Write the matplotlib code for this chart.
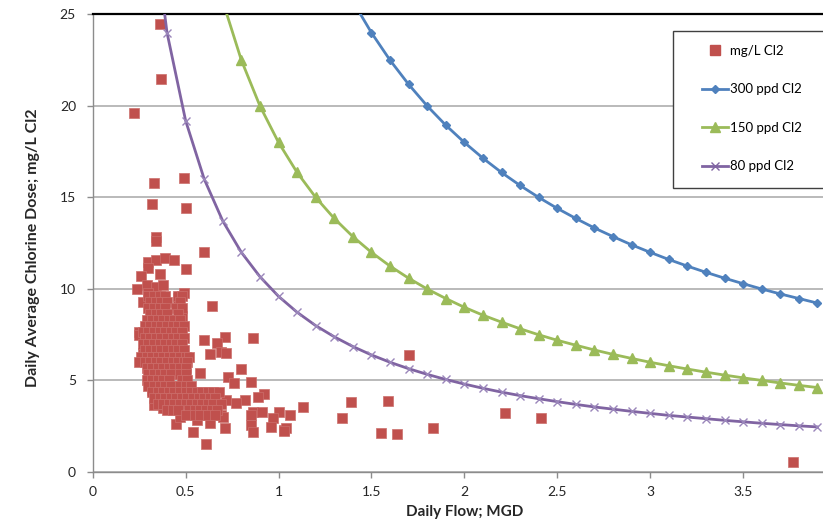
import numpy as np
import matplotlib
matplotlib.use('Agg')
import matplotlib.pyplot as plt
from matplotlib.patches import Rectangle
from matplotlib.lines import Line2D

plt.rcParams['font.family'] = ['Lato', 'DejaVu Sans']

## colours (Excel 2007 palette)
c_red = '#C0504D'
c_blue = '#4F81BD'
c_green = '#9BBB59'
c_purple = '#8064A2'

## measured daily points: flow (MGD) and dose (mg/L Cl2)
# scattered points read off the chart
flow_pts = [0.36, 0.37, 0.22, 0.33, 0.49, 0.32, 0.50, 0.34, 0.34, 0.60,
            0.30, 0.34, 0.39, 0.44, 0.30, 0.50, 0.36, 0.26, 0.24, 0.29,
            0.34, 0.38, 0.27, 0.30, 0.49, 0.46, 0.64, 0.48, 0.25, 0.25,
            0.60, 0.71, 0.86, 0.67, 0.69, 0.72, 0.63, 0.27, 0.80, 0.58,
            0.73, 0.76, 0.85, 0.32, 0.92, 0.89, 0.82, 0.72, 0.77, 0.33,
            0.38, 0.86, 0.91, 0.85, 1.00, 0.97, 0.96, 1.03, 0.85, 0.86,
            0.71, 0.54, 0.45, 0.61, 0.69, 0.70, 0.63, 0.56, 0.47, 1.06,
            1.13, 1.04, 1.03, 1.34, 1.39, 1.59, 1.55, 1.64, 1.83, 1.70,
            2.22, 2.41, 3.77]
dose_pts = [24.45, 21.44, 19.61, 15.78, 16.03, 14.65, 14.39, 12.81, 12.61, 12.03,
            11.48, 11.57, 11.70, 11.57, 11.12, 11.06, 10.82, 10.70, 9.99, 10.21,
            10.11, 10.21, 9.30, 9.75, 9.75, 9.48, 9.08, 8.52, 7.66, 7.50,
            7.21, 7.39, 7.30, 7.03, 6.57, 6.48, 6.42, 6.48, 5.62, 5.39,
            5.20, 4.84, 4.93, 4.48, 4.26, 4.11, 3.93, 3.93, 3.75, 3.66,
            3.48, 3.29, 3.29, 3.11, 3.29, 2.93, 2.47, 2.29, 2.57, 2.17,
            2.39, 2.17, 2.62, 1.53, 3.11, 3.02, 2.66, 2.84, 3.02, 3.11,
            3.56, 2.42, 2.22, 2.93, 3.84, 3.89, 2.11, 2.07, 2.39, 6.39,
            3.20, 2.93, 0.55]

# dense cluster at low flow, read row by row
flow_dense = [0.30, 0.33, 0.36, 0.39, 0.46, 0.48,
              0.31, 0.34, 0.37, 0.40, 0.47,
              0.30, 0.33, 0.36, 0.39, 0.45, 0.48,
              0.31, 0.34, 0.37, 0.40, 0.46,
              0.29, 0.32, 0.35, 0.38, 0.41, 0.44, 0.47,
              0.28, 0.31, 0.34, 0.37, 0.40, 0.43, 0.46, 0.49,
              0.27, 0.30, 0.33, 0.36, 0.39, 0.42, 0.45, 0.48,
              0.28, 0.31, 0.34, 0.37, 0.40, 0.43, 0.46, 0.49,
              0.27, 0.30, 0.33, 0.36, 0.39, 0.42, 0.45, 0.48,
              0.28, 0.31, 0.34, 0.37, 0.40, 0.43, 0.46, 0.49,
              0.26, 0.29, 0.32, 0.35, 0.38, 0.41, 0.44, 0.47, 0.50, 0.52,
              0.25, 0.28, 0.31, 0.34, 0.37, 0.40, 0.43, 0.46, 0.49, 0.51,
              0.29, 0.32, 0.35, 0.38, 0.41, 0.44, 0.47, 0.50,
              0.30, 0.33, 0.36, 0.39, 0.42, 0.47, 0.50,
              0.29, 0.32, 0.35, 0.38, 0.41, 0.48, 0.51,
              0.30, 0.33, 0.36, 0.39, 0.42, 0.47, 0.50, 0.53,
              0.32, 0.35, 0.38, 0.41, 0.44, 0.47, 0.50, 0.53, 0.56, 0.59, 0.62, 0.65, 0.68,
              0.33, 0.36, 0.39, 0.42, 0.45, 0.48, 0.51, 0.54, 0.57, 0.60, 0.63, 0.66,
              0.35, 0.38, 0.41, 0.44, 0.47, 0.50, 0.53, 0.56, 0.59, 0.62, 0.65, 0.69,
              0.40, 0.43, 0.46, 0.52, 0.55, 0.58, 0.61, 0.64, 0.67,
              0.50, 0.55, 0.58, 0.62, 0.66]
dose_dense = [9.60, 9.60, 9.60, 9.60, 9.60, 9.60,
              9.30, 9.30, 9.30, 9.30, 9.30,
              8.95, 8.95, 8.95, 8.95, 8.95, 8.95,
              8.60, 8.60, 8.60, 8.60, 8.60,
              8.30, 8.30, 8.30, 8.30, 8.30, 8.30, 8.30,
              7.95, 7.95, 7.95, 7.95, 7.95, 7.95, 7.95, 7.95,
              7.65, 7.65, 7.65, 7.65, 7.65, 7.65, 7.65, 7.65,
              7.30, 7.30, 7.30, 7.30, 7.30, 7.30, 7.30, 7.30,
              7.00, 7.00, 7.00, 7.00, 7.00, 7.00, 7.00, 7.00,
              6.65, 6.65, 6.65, 6.65, 6.65, 6.65, 6.65, 6.65,
              6.30, 6.30, 6.30, 6.30, 6.30, 6.30, 6.30, 6.30, 6.30, 6.30,
              6.00, 6.00, 6.00, 6.00, 6.00, 6.00, 6.00, 6.00, 6.00, 6.00,
              5.70, 5.70, 5.70, 5.70, 5.70, 5.70, 5.70, 5.70,
              5.35, 5.35, 5.35, 5.35, 5.35, 5.35, 5.35,
              5.00, 5.00, 5.00, 5.00, 5.00, 5.00, 5.00,
              4.70, 4.70, 4.70, 4.70, 4.70, 4.70, 4.70, 4.70,
              4.35, 4.35, 4.35, 4.35, 4.35, 4.35, 4.35, 4.35, 4.35, 4.35, 4.35, 4.35, 4.35,
              4.05, 4.05, 4.05, 4.05, 4.05, 4.05, 4.05, 4.05, 4.05, 4.05, 4.05, 4.05,
              3.70, 3.70, 3.70, 3.70, 3.70, 3.70, 3.70, 3.70, 3.70, 3.70, 3.70, 3.70,
              3.40, 3.40, 3.40, 3.40, 3.40, 3.40, 3.40, 3.40, 3.40,
              3.10, 3.10, 3.10, 3.10, 3.10]

## constant feed curves (one marker per 0.1 MGD)
flow_300 = [1.4, 1.5, 1.6, 1.7, 1.8, 1.9, 2.0, 2.1, 2.2, 2.3, 2.4, 2.5, 2.6,
            2.7, 2.8, 2.9, 3.0, 3.1, 3.2, 3.3, 3.4, 3.5, 3.6, 3.7, 3.8, 3.9]
dose_300 = [25.69, 23.98, 22.48, 21.16, 19.98, 18.93, 17.99, 17.13, 16.35,
            15.64, 14.99, 14.39, 13.84, 13.32, 12.85, 12.40, 11.99, 11.60,
            11.24, 10.90, 10.58, 10.28, 9.99, 9.72, 9.47, 9.22]

flow_150 = [0.7, 0.8, 0.9, 1.0, 1.1, 1.2, 1.3, 1.4, 1.5, 1.6, 1.7, 1.8, 1.9,
            2.0, 2.1, 2.2, 2.3, 2.4, 2.5, 2.6, 2.7, 2.8, 2.9, 3.0, 3.1, 3.2,
            3.3, 3.4, 3.5, 3.6, 3.7, 3.8, 3.9]
dose_150 = [25.69, 22.48, 19.98, 17.99, 16.35, 14.99, 13.84, 12.85, 11.99,
            11.24, 10.58, 9.99, 9.47, 8.99, 8.56, 8.18, 7.82, 7.49, 7.19,
            6.92, 6.66, 6.42, 6.20, 5.99, 5.80, 5.62, 5.45, 5.29, 5.14,
            5.00, 4.86, 4.73, 4.61]

flow_80 = [0.3, 0.4, 0.5, 0.6, 0.7, 0.8, 0.9, 1.0, 1.1, 1.2, 1.3, 1.4, 1.5,
           1.6, 1.7, 1.8, 1.9, 2.0, 2.1, 2.2, 2.3, 2.4, 2.5, 2.6, 2.7, 2.8,
           2.9, 3.0, 3.1, 3.2, 3.3, 3.4, 3.5, 3.6, 3.7, 3.8, 3.9]
dose_80 = [31.97, 23.98, 19.18, 15.99, 13.70, 11.99, 10.66, 9.59, 8.72, 7.99,
           7.38, 6.85, 6.39, 5.99, 5.64, 5.33, 5.05, 4.80, 4.57, 4.36, 4.17,
           4.00, 3.84, 3.69, 3.55, 3.43, 3.31, 3.20, 3.09, 3.00, 2.91, 2.82,
           2.74, 2.66, 2.59, 2.52, 2.46]

xticks = [0, 0.5, 1, 1.5, 2, 2.5, 3, 3.5]
xticklabels = ['0', '0.5', '1', '1.5', '2', '2.5', '3', '3.5']
yticks = [0, 5, 10, 15, 20, 25]

W, H = 823., 522.
fig = plt.figure(figsize=(W/100, H/100), dpi=100)
x0, x1, y0, y1 = 92.7, 823., 14., 472.
ax = fig.add_axes([x0/W, 1-y1/H, (x1-x0)/W, (y1-y0)/H])

ax.scatter(flow_pts + flow_dense, dose_pts + dose_dense, marker='s', s=44,
           color=c_red, edgecolors='#CC6F6C', linewidths=0.5, zorder=3)
ax.plot(flow_300, dose_300, color=c_blue, lw=2, marker='D', ms=4, zorder=4)
ax.plot(flow_150, dose_150, color=c_green, lw=2, marker='^', ms=6.5, zorder=4)
ax.plot(flow_80, dose_80, color=c_purple, lw=2, marker='x', ms=5.5, mew=1,
        mec='#9A86BA', zorder=4)

ax.set_xlim(0, 3.93)
ax.set_ylim(0, 25)
ax.set_xticks(xticks)
ax.set_xticklabels(xticklabels)
ax.set_yticks(yticks)
ax.yaxis.grid(True, color='#B4B4B4', lw=1.3)
ax.set_axisbelow(True)
ax.tick_params(axis='both', direction='out', length=4, width=1,
               color='#8C8C8C', labelsize=10, labelcolor='#262626')
ax.tick_params(axis='x', pad=6)
ax.tick_params(axis='y', pad=8)

for s in ['left', 'bottom']:
    ax.spines[s].set_color('#8C8C8C')
    ax.spines[s].set_linewidth(1)
ax.spines['right'].set_visible(False)
ax.spines['top'].set_color('black')
ax.spines['top'].set_linewidth(1.6)

fig.text(465/W, 1-512/H, 'Daily Flow; MGD', ha='center', va='center',
         fontsize=11, fontweight='bold', color='#262626')
fig.text(33/W, 1-248/H, 'Daily Average Chlorine Dose; mg/L Cl2', ha='center',
         va='center', rotation=90, fontsize=11.5, fontweight='bold',
         color='#262626')

## legend in a box at the upper right
fig.patches.append(Rectangle((673/W, 1-188/H), 160/W, 157/H,
                             transform=fig.transFigure, facecolor='white',
                             edgecolor='#404040', lw=1, zorder=5))
handles = [Line2D([], [], ls='none', marker='s', ms=6.5, color=c_red),
           Line2D([], [], color=c_blue, lw=2, marker='D', ms=4),
           Line2D([], [], color=c_green, lw=2, marker='^', ms=6.5),
           Line2D([], [], color=c_purple, lw=2, marker='x', ms=5.5, mew=1)]
labels = ['mg/L Cl2', '300 ppd Cl2', '150 ppd Cl2', '80 ppd Cl2']
leg = fig.legend(handles, labels, loc='upper left',
                 bbox_to_anchor=(702/W, 1-45/H), frameon=False,
                 fontsize=9.5, labelspacing=2.0, handlelength=2.0,
                 handletextpad=0.15, borderpad=0, borderaxespad=0)
leg.set_zorder(6)

fig.savefig('out.png', dpi=100)
